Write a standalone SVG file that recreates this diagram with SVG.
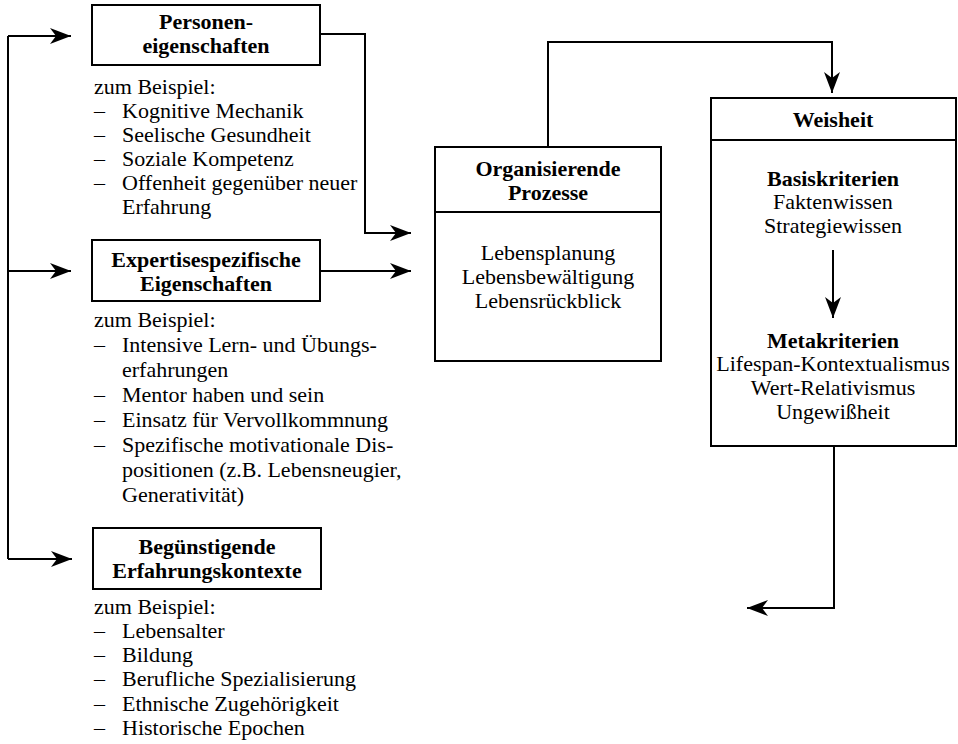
<svg xmlns="http://www.w3.org/2000/svg" width="958" height="744" viewBox="0 0 958 744">
<defs>
<marker id="ah" viewBox="-22 -9 23 18" markerWidth="23" markerHeight="18" refX="0" refY="0" markerUnits="userSpaceOnUse" orient="auto">
<path d="M0,0 L-21,-8 L-15,0 L-21,8 Z" fill="#000"/>
</marker>
<style>
text{font-family:"Liberation Serif","Times New Roman",serif;font-size:22px;fill:#000}
.b{font-weight:bold}
.c{text-anchor:middle}
.box{fill:#fff;stroke:#000;stroke-width:2}
.ln{fill:none;stroke:#000;stroke-width:2}
</style>
</defs>
<rect width="958" height="744" fill="#fff"/>
<g id="personen">
<rect class="box" x="92" y="5" width="228" height="60"/>
<text class="b c" x="206" y="29">Personen-</text>
<text class="b c" x="206" y="53">eigenschaften</text>
<text x="94" y="94">zum Beispiel:</text>
<text x="94" y="118">–</text><text x="122" y="118">Kognitive Mechanik</text>
<text x="94" y="142">–</text><text x="122" y="142">Seelische Gesundheit</text>
<text x="94" y="166">–</text><text x="122" y="166">Soziale Kompetenz</text>
<text x="94" y="190">–</text><text x="122" y="190">Offenheit gegenüber neuer</text>
<text x="122" y="214">Erfahrung</text>
</g>
<g id="expertise">
<rect class="box" x="92" y="240" width="228" height="61"/>
<text class="b c" x="206" y="267">Expertisespezifische</text>
<text class="b c" x="206" y="291">Eigenschaften</text>
<text x="94" y="327">zum Beispiel:</text>
<text x="94" y="352">–</text><text x="122" y="352">Intensive Lern- und Übungs-</text>
<text x="122" y="377">erfahrungen</text>
<text x="94" y="402">–</text><text x="122" y="402">Mentor haben und sein</text>
<text x="94" y="427">–</text><text x="122" y="427">Einsatz für Vervollkommnung</text>
<text x="94" y="452">–</text><text x="122" y="452">Spezifische motivationale Dis-</text>
<text x="122" y="477">positionen (z.B. Lebensneugier,</text>
<text x="122" y="502">Generativität)</text>
</g>
<g id="kontexte">
<rect class="box" x="93" y="528" width="228" height="61"/>
<text class="b c" x="207" y="554">Begünstigende</text>
<text class="b c" x="207" y="578">Erfahrungskontexte</text>
<text x="94" y="614">zum Beispiel:</text>
<text x="94" y="638">–</text><text x="122" y="638">Lebensalter</text>
<text x="94" y="662">–</text><text x="122" y="662">Bildung</text>
<text x="94" y="686">–</text><text x="122" y="686">Berufliche Spezialisierung</text>
<text x="94" y="711">–</text><text x="122" y="711">Ethnische Zugehörigkeit</text>
<text x="94" y="735">–</text><text x="122" y="735">Historische Epochen</text>
</g>
<g id="prozesse">
<rect class="box" x="435" y="147" width="226" height="214"/>
<line class="ln" x1="435" y1="212" x2="661" y2="212"/>
<text class="b c" x="548" y="176">Organisierende</text>
<text class="b c" x="548" y="200">Prozesse</text>
<text class="c" x="548" y="260">Lebensplanung</text>
<text class="c" x="548" y="284">Lebensbewältigung</text>
<text class="c" x="548" y="308">Lebensrückblick</text>
</g>
<g id="weisheit">
<rect class="box" x="711" y="98" width="245" height="348"/>
<line class="ln" x1="711" y1="140" x2="956" y2="140"/>
<text class="b c" x="833" y="127">Weisheit</text>
<text class="b c" x="833" y="186">Basiskriterien</text>
<text class="c" x="833" y="209">Faktenwissen</text>
<text class="c" x="833" y="233">Strategiewissen</text>
<text class="b c" x="833" y="348">Metakriterien</text>
<text class="c" x="833" y="371">Lifespan-Kontextualismus</text>
<text class="c" x="833" y="395">Wert-Relativismus</text>
<text class="c" x="833" y="419">Ungewißheit</text>
</g>
<g id="connectors">
<path class="ln" d="M8,36 V559"/>
<path class="ln" d="M8,36 H71" marker-end="url(#ah)"/>
<path class="ln" d="M8,271 H71" marker-end="url(#ah)"/>
<path class="ln" d="M8,559 H72" marker-end="url(#ah)"/>
<path class="ln" d="M320,34 H365 V233 H411" marker-end="url(#ah)"/>
<path class="ln" d="M320,271 H411" marker-end="url(#ah)"/>
<path class="ln" d="M548,147 V42 H832 V93" marker-end="url(#ah)"/>
<path class="ln" d="M833,250 V318" marker-end="url(#ah)"/>
<path class="ln" d="M834,446 V608 H747" marker-end="url(#ah)"/>
</g>
</svg>
